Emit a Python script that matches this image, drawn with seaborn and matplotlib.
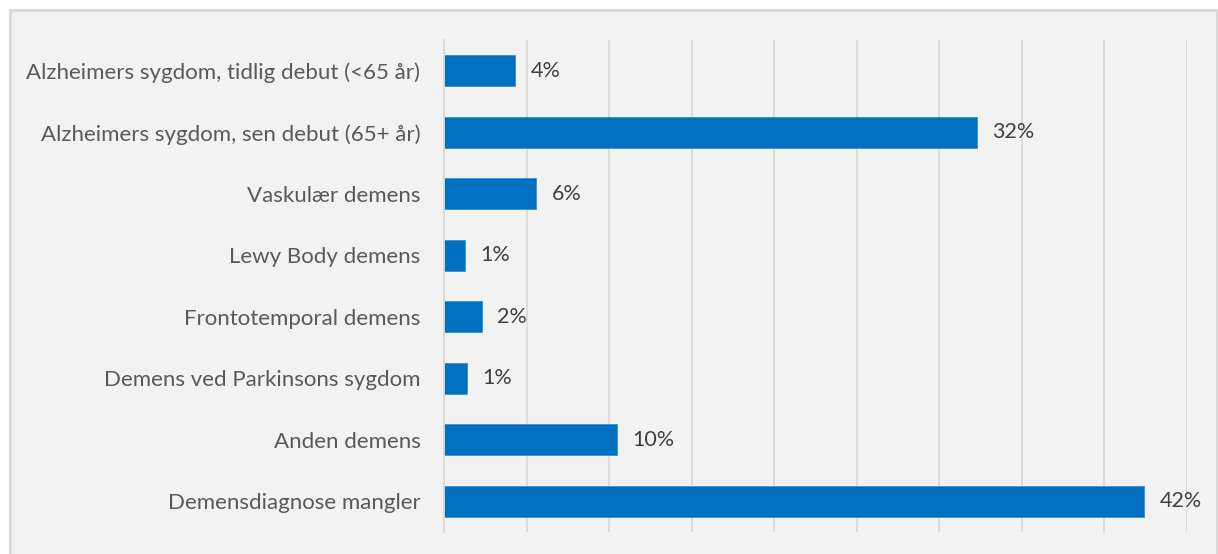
import matplotlib
matplotlib.use("Agg")
import matplotlib.pyplot as plt
import seaborn as sns
from matplotlib.patches import Rectangle

# Data
kategorier = [
    "Alzheimers sygdom, tidlig debut (<65 år)",
    "Alzheimers sygdom, sen debut (65+ år)",
    "Vaskulær demens",
    "Lewy Body demens",
    "Frontotemporal demens",
    "Demens ved Parkinsons sygdom",
    "Anden demens",
    "Demensdiagnose mangler",
]
andele = [4.3, 32.3, 5.6, 1.25, 2.3, 1.4, 10.5, 42.4]
etiketter = ["4%", "32%", "6%", "1%", "2%", "1%", "10%", "42%"]

sns.set_style("white")
plt.rcParams["font.family"] = ["Lato", "DejaVu Sans"]

fig = plt.figure(figsize=(12.18, 5.54), dpi=100)
fig.patch.set_facecolor("white")

# Grey chart area with border, like the office chart frame
ramme = Rectangle((10 / 1218, -0.05), 1207 / 1218, 1.05 - 10 / 554,
                  transform=fig.transFigure, facecolor="#f2f2f2",
                  edgecolor="#d9d9d9", linewidth=2, zorder=-10)
fig.add_artist(ramme)

ax = fig.add_axes([444 / 1218, 1 - 532 / 554, (1187 - 444) / 1218, (532 - 40) / 554])
ax.set_facecolor("#f2f2f2")

sns.barplot(x=andele, y=kategorier, orient="h", color="#0070C0",
            width=0.5, saturation=1, edgecolor="#3a8fd6", linewidth=0.6, ax=ax)

ax.bar_label(ax.containers[0], labels=etiketter, padding=11,
             fontsize=15.5, color="#404040")

ax.set_xlim(0, 45)
ax.set_xticks(range(0, 46, 5))
ax.set_xticklabels([])
ax.grid(axis="x", color="#d9d9d9", linewidth=1.3)
ax.set_axisbelow(True)
ax.tick_params(axis="both", length=0)
ax.tick_params(axis="y", pad=17, labelsize=16, labelcolor="#595959")
for s in ["top", "right", "bottom"]:
    ax.spines[s].set_visible(False)
ax.spines["left"].set_color("#d9d9d9")
ax.spines["left"].set_linewidth(1.3)
ax.set_xlabel("")
ax.set_ylabel("")

fig.savefig("out.png", dpi=100)
